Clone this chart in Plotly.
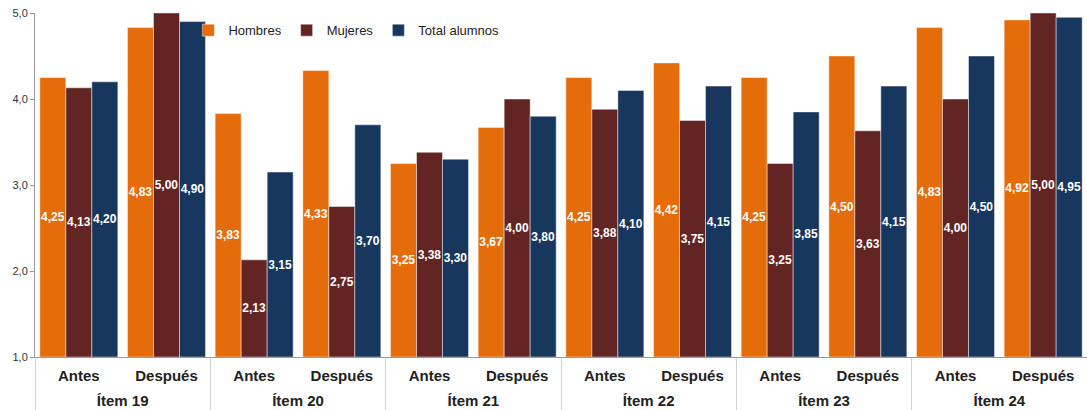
import plotly.graph_objects as go

items = ["Ítem 19", "Ítem 20", "Ítem 21", "Ítem 22", "Ítem 23", "Ítem 24"]
phases = ["Antes", "Después"]

hombres = [4.25, 4.83, 3.83, 4.33, 3.25, 3.67, 4.25, 4.42, 4.25, 4.50, 4.83, 4.92]
mujeres = [4.13, 5.00, 2.13, 2.75, 3.38, 4.00, 3.88, 3.75, 3.25, 3.63, 4.00, 5.00]
total = [4.20, 4.90, 3.15, 3.70, 3.30, 3.80, 4.10, 4.15, 3.85, 4.15, 4.50, 4.95]

series = [
    ("Hombres", hombres, "#E46C0A"),
    ("Mujeres", mujeres, "#632523"),
    ("Total alumnos", total, "#17375E"),
]

AXIS_MIN = 1.0  # bars rise from the bottom of the value axis

# outer category labels are nudged a little lower, below the phase row
x_outer = ["<span style='baseline-shift:-11px'>" + it + "</span>" for it in items for _ in phases]
x_inner = [ph for _ in items for ph in phases]

FONT = "Liberation Sans, Arial, sans-serif"

fig = go.Figure()
for name, vals, color in series:
    labels = [f"{v:.2f}".replace(".", ",") for v in vals]
    fig.add_trace(go.Bar(
        name=name,
        x=[x_outer, x_inner],
        base=AXIS_MIN,
        y=[v - AXIS_MIN for v in vals],
        marker=dict(color=color, line=dict(color="rgba(255,255,255,0.45)", width=1)),
        text=labels,
        textposition="inside",
        insidetextanchor="middle",
        textangle=0,
        textfont=dict(color="white", size=12, family=FONT, weight="bold"),
        hovertemplate=name + ": %{text}<extra></extra>",
    ))

fig.update_layout(
    width=1087,
    height=410,
    barmode="group",
    bargap=0.11,
    bargroupgap=0,
    separators=",.",
    plot_bgcolor="white",
    paper_bgcolor="white",
    margin=dict(l=35, r=0, t=13, b=53),
    font=dict(family=FONT, color="#222222"),
    uniformtext=dict(minsize=12, mode="show"),
    legend=dict(
        orientation="h",
        x=0.296, y=0.95,
        xanchor="center", yanchor="middle",
        font=dict(size=13, color="#222222", family=FONT),
        bgcolor="rgba(0,0,0,0)",
        itemwidth=30,
        traceorder="normal",
    ),
    showlegend=True,
)

fig.update_yaxes(
    range=[1, 5],
    tickvals=[1, 2, 3, 4, 5],
    tickformat=".1f",
    showgrid=False,
    showline=True,
    linecolor="#999999",
    linewidth=1,
    ticks="outside",
    ticklen=4,
    tickcolor="#999999",
    tickfont=dict(size=11, color="#333333", family=FONT),
    zeroline=False,
)

fig.update_xaxes(
    automargin=False,
    showgrid=False,
    showline=True,
    linecolor="#999999",
    linewidth=1,
    showdividers=True,
    dividercolor="#d0d0d0",
    dividerwidth=1,
    tickfont=dict(size=15, color="#222222", family=FONT, weight="bold"),
    ticklabelstandoff=5,
)

fig.write_html("out.html")
